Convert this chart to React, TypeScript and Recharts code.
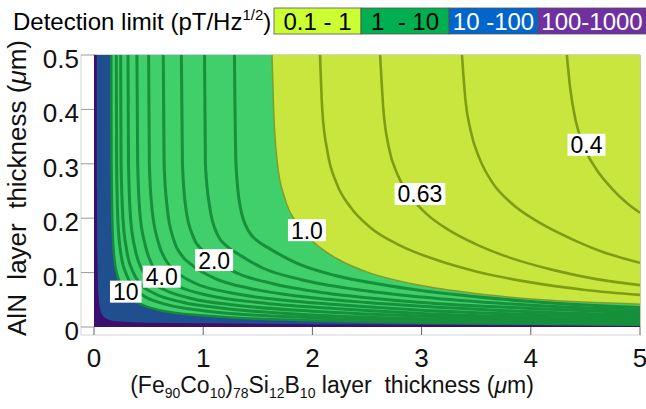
import { ComposedChart, Area, Line, Scatter, XAxis, YAxis, Customized } from 'recharts';

type Pt = { x: number; y: number };

// contours of the detection limit (pT/Hz^1/2), x = FeCoSiB thickness, y = AlN thickness (µm)
const plotSpan: Pt[] = [{ x: 0, y: 0 }, { x: 5, y: 0 }];
const c100: Pt[] = [
  { x: 0.025, y: 0.5 }, { x: 0.027, y: 0.25 }, { x: 0.032, y: 0.12 }, { x: 0.04, y: 0.06 },
  { x: 0.06, y: 0.03 }, { x: 0.1, y: 0.017 }, { x: 0.2, y: 0.0105 }, { x: 0.5, y: 0.008 },
  { x: 1, y: 0.007 }, { x: 2, y: 0.005 }, { x: 3, y: 0.004 }, { x: 4, y: 0.003 }, { x: 5, y: 0.002 },
];
const c10: Pt[] = [
  { x: 0.158, y: 0.5 }, { x: 0.16, y: 0.3 }, { x: 0.17, y: 0.18 }, { x: 0.19, y: 0.12 },
  { x: 0.23, y: 0.085 }, { x: 0.29, y: 0.062 }, { x: 0.4, y: 0.045 }, { x: 0.6, y: 0.031 },
  { x: 1, y: 0.021 }, { x: 2, y: 0.012 }, { x: 3, y: 0.008 }, { x: 4, y: 0.006 }, { x: 5, y: 0.004 },
];
const c7_9: Pt[] = [
  { x: 0.204, y: 0.5 }, { x: 0.207, y: 0.3 }, { x: 0.22, y: 0.19 }, { x: 0.25, y: 0.13 },
  { x: 0.3, y: 0.095 }, { x: 0.35, y: 0.075 }, { x: 0.45, y: 0.058 }, { x: 0.65, y: 0.042 },
  { x: 1, y: 0.03 }, { x: 2, y: 0.017 }, { x: 3, y: 0.011 }, { x: 4, y: 0.008 }, { x: 5, y: 0.006 },
];
const c6_3: Pt[] = [
  { x: 0.244, y: 0.5 }, { x: 0.248, y: 0.3 }, { x: 0.265, y: 0.2 }, { x: 0.3, y: 0.14 },
  { x: 0.36, y: 0.1 }, { x: 0.42, y: 0.08 }, { x: 0.55, y: 0.062 }, { x: 0.8, y: 0.046 },
  { x: 1.2, y: 0.034 }, { x: 2, y: 0.022 }, { x: 3, y: 0.015 }, { x: 4, y: 0.011 }, { x: 5, y: 0.008 },
];
const c5: Pt[] = [
  { x: 0.311, y: 0.5 }, { x: 0.316, y: 0.3 }, { x: 0.335, y: 0.2 }, { x: 0.38, y: 0.14 },
  { x: 0.44, y: 0.105 }, { x: 0.51, y: 0.086 }, { x: 0.65, y: 0.068 }, { x: 0.9, y: 0.052 },
  { x: 1.3, y: 0.04 }, { x: 2, y: 0.029 }, { x: 3, y: 0.02 }, { x: 4, y: 0.014 }, { x: 5, y: 0.011 },
];
const c4: Pt[] = [
  { x: 0.393, y: 0.5 }, { x: 0.4, y: 0.3 }, { x: 0.42, y: 0.21 }, { x: 0.47, y: 0.15 },
  { x: 0.53, y: 0.115 }, { x: 0.62, y: 0.093 }, { x: 0.78, y: 0.074 }, { x: 1.05, y: 0.058 },
  { x: 1.5, y: 0.045 }, { x: 2.2, y: 0.034 }, { x: 3, y: 0.025 }, { x: 4, y: 0.018 }, { x: 5, y: 0.014 },
];
const c3_2: Pt[] = [
  { x: 0.5, y: 0.5 }, { x: 0.507, y: 0.3 }, { x: 0.53, y: 0.22 }, { x: 0.59, y: 0.155 },
  { x: 0.66, y: 0.122 }, { x: 0.75, y: 0.102 }, { x: 0.93, y: 0.08 }, { x: 1.25, y: 0.063 },
  { x: 1.7, y: 0.05 }, { x: 2.3, y: 0.04 }, { x: 3, y: 0.031 }, { x: 4, y: 0.023 }, { x: 5, y: 0.018 },
];
const c2_5: Pt[] = [
  { x: 0.634, y: 0.5 }, { x: 0.642, y: 0.3 }, { x: 0.67, y: 0.22 }, { x: 0.73, y: 0.16 },
  { x: 0.81, y: 0.13 }, { x: 0.91, y: 0.112 }, { x: 1.1, y: 0.09 }, { x: 1.45, y: 0.07 },
  { x: 1.9, y: 0.056 }, { x: 2.5, y: 0.045 }, { x: 3, y: 0.038 }, { x: 4, y: 0.028 }, { x: 5, y: 0.022 },
];
const c2: Pt[] = [
  { x: 0.8, y: 0.5 }, { x: 0.81, y: 0.3 }, { x: 0.84, y: 0.22 }, { x: 0.91, y: 0.165 },
  { x: 1.0, y: 0.14 }, { x: 1.1, y: 0.123 }, { x: 1.3, y: 0.1 }, { x: 1.65, y: 0.079 },
  { x: 2.1, y: 0.063 }, { x: 2.6, y: 0.052 }, { x: 3, y: 0.045 }, { x: 4, y: 0.034 }, { x: 5, y: 0.026 },
];
const c1_6: Pt[] = [
  { x: 1.012, y: 0.5 }, { x: 1.02, y: 0.3 }, { x: 1.06, y: 0.22 }, { x: 1.13, y: 0.17 },
  { x: 1.22, y: 0.148 }, { x: 1.33, y: 0.133 }, { x: 1.55, y: 0.108 }, { x: 1.9, y: 0.087 },
  { x: 2.4, y: 0.069 }, { x: 3, y: 0.055 }, { x: 4, y: 0.04 }, { x: 5, y: 0.031 },
];
const c1_3: Pt[] = [
  { x: 1.286, y: 0.5 }, { x: 1.3, y: 0.3 }, { x: 1.34, y: 0.22 }, { x: 1.42, y: 0.175 },
  { x: 1.5, y: 0.158 }, { x: 1.6, y: 0.145 }, { x: 1.85, y: 0.118 }, { x: 2.2, y: 0.095 },
  { x: 2.7, y: 0.076 }, { x: 3.2, y: 0.062 }, { x: 4, y: 0.047 }, { x: 5, y: 0.036 },
];
const c1: Pt[] = [
  { x: 1.63, y: 0.5 }, { x: 1.645, y: 0.4 }, { x: 1.68, y: 0.3 }, { x: 1.75, y: 0.235 },
  { x: 1.86, y: 0.19 }, { x: 2.01, y: 0.156 }, { x: 2.23, y: 0.125 }, { x: 2.53, y: 0.099 },
  { x: 2.9, y: 0.08 }, { x: 3.44, y: 0.063 }, { x: 4.1, y: 0.05 }, { x: 5, y: 0.042 },
];
const c0_8: Pt[] = [
  { x: 2.07, y: 0.5 }, { x: 2.09, y: 0.4 }, { x: 2.14, y: 0.32 }, { x: 2.22, y: 0.265 },
  { x: 2.35, y: 0.22 }, { x: 2.53, y: 0.183 }, { x: 2.8, y: 0.15 }, { x: 3.14, y: 0.123 },
  { x: 3.5, y: 0.102 }, { x: 4.0, y: 0.082 }, { x: 4.5, y: 0.068 }, { x: 5, y: 0.059 },
];
const c0_63: Pt[] = [
  { x: 2.62, y: 0.5 }, { x: 2.65, y: 0.4 }, { x: 2.7, y: 0.33 }, { x: 2.78, y: 0.28 },
  { x: 2.9, y: 0.24 }, { x: 3.05, y: 0.207 }, { x: 3.25, y: 0.178 }, { x: 3.5, y: 0.152 },
  { x: 3.8, y: 0.128 }, { x: 4.2, y: 0.105 }, { x: 4.6, y: 0.088 }, { x: 5, y: 0.077 },
];
const c0_5: Pt[] = [
  { x: 3.37, y: 0.5 }, { x: 3.4, y: 0.42 }, { x: 3.45, y: 0.36 }, { x: 3.53, y: 0.31 },
  { x: 3.65, y: 0.265 }, { x: 3.82, y: 0.228 }, { x: 4.06, y: 0.194 }, { x: 4.36, y: 0.163 },
  { x: 4.66, y: 0.138 }, { x: 5, y: 0.118 },
];
const c0_4: Pt[] = [
  { x: 4.33, y: 0.5 }, { x: 4.36, y: 0.44 }, { x: 4.41, y: 0.38 }, { x: 4.49, y: 0.33 },
  { x: 4.6, y: 0.29 }, { x: 4.74, y: 0.255 }, { x: 4.88, y: 0.228 }, { x: 5, y: 0.21 },
];

const greenLines = [c7_9, c6_3, c5, c4, c3_2, c2_5, c2, c1_6, c1_3];
const yellowLines = [c0_8, c0_63, c0_5, c0_4];

const contourLabels = [
  { t: '10', x: 0.291, y: 0.065 },
  { t: '4.0', x: 0.62, y: 0.0925 },
  { t: '2.0', x: 1.1, y: 0.123 },
  { t: '1.0', x: 1.95, y: 0.178 },
  { t: '0.63', x: 2.985, y: 0.2445 },
  { t: '0.4', x: 4.51, y: 0.335 },
];

const xTicks = [0, 1, 2, 3, 4, 5];
const yTicks = [0, 0.1, 0.2, 0.3, 0.4, 0.5];

const legendRanges = ['0.1 - 1', '1  - 10', '10 -100', '100-1000'];
const legendColors = ['#ccff33', '#00b050', '#0066cc', '#7030a0'];
const legendText = ['#000', '#000', '#fff', '#fff'];
const legendEdges = [274, 361, 449, 538, 646];

const FONT = "'Liberation Sans', Arial, sans-serif";

const textWidth = (s: string, size: number) =>
  s.split('').reduce((w, ch) => w + (ch === '.' ? 0.278 : 0.556), 0) * size;

const ContourLabel = (p: any) => {
  const w = textWidth(p.payload.t, 23) + 6;
  return (
    <g>
      <rect x={p.cx - w / 2} y={p.cy - 11} width={w} height={22} fill="#fff" />
      <text x={p.cx} y={p.cy + 8.5} textAnchor="middle" fontSize={23} fontFamily={FONT} fill="#000">
        {p.payload.t}
      </text>
    </g>
  );
};

const XTick = ({ x, y, payload }: any) => (
  <text x={x} y={y + 30} textAnchor="middle" fontSize={26} fontFamily={FONT} fill="#111">
    {payload.value}
  </text>
);

const YTick = ({ x, y, payload }: any) => (
  <text x={x} y={y + 13} textAnchor="end" fontSize={26} fontFamily={FONT} fill="#111">
    {payload.value}
  </text>
);

const Overlay = () => (
  <g fontFamily={FONT}>
    {/* frame */}
    <line x1={93} y1={55} x2={640} y2={55} stroke="#a8a8a8" strokeWidth={1} />
    <line x1={640} y1={55} x2={640} y2={327} stroke="#8a9a50" strokeWidth={1} />
    <line x1={81} y1={55} x2={81} y2={335} stroke="#d4d4d4" strokeWidth={1} />
    <line x1={81} y1={335} x2={641} y2={335} stroke="#d4d4d4" strokeWidth={1} />

    {/* header */}
    <text x={13} y={30} fontSize={24} fill="#000">
      Detection limit (pT/Hz
      <tspan dy={-10} fontSize={15}>1/2</tspan>
      <tspan dy={10} fontSize={24}>)</tspan>
    </text>
    {legendRanges.map((r, i) => (
      <g key={r}>
        <rect
          x={legendEdges[i]}
          y={8}
          width={legendEdges[i + 1] - legendEdges[i]}
          height={26}
          fill={legendColors[i]}
          stroke="#555"
          strokeWidth={0.8}
        />
        <text
          x={(legendEdges[i] + legendEdges[i + 1]) / 2}
          y={29.5}
          textAnchor="middle"
          fontSize={24}
          fill={legendText[i]}
          style={{ whiteSpace: 'pre' }}
        >
          {r}
        </text>
      </g>
    ))}

    {/* axis titles */}
    <text x={332} y={393} textAnchor="middle" fontSize={23} fill="#111" style={{ whiteSpace: 'pre' }}>
      (Fe<tspan dy={5} fontSize={14}>90</tspan>
      <tspan dy={-5}>Co</tspan>
      <tspan dy={5} fontSize={14}>10</tspan>
      <tspan dy={-5}>)</tspan>
      <tspan dy={5} fontSize={14}>78</tspan>
      <tspan dy={-5}>Si</tspan>
      <tspan dy={5} fontSize={14}>12</tspan>
      <tspan dy={-5}>B</tspan>
      <tspan dy={5} fontSize={14}>10</tspan>
      <tspan dy={-5}>{' layer  thickness ('}</tspan>
      <tspan fontStyle="italic">μ</tspan>
      <tspan>m)</tspan>
    </text>
    <text
      x={0}
      y={0}
      transform="translate(26 188) rotate(-90)"
      textAnchor="middle"
      fontSize={26}
      fill="#111"
      style={{ whiteSpace: 'pre' }}
    >
      {'AlN  layer  thickness ('}
      <tspan fontStyle="italic">μ</tspan>
      m)
    </text>
  </g>
);

export default function App() {
  return (
    <div style={{ position: 'absolute', left: 0, top: 0, width: 646, height: 409, background: '#fff' }}>
      <ComposedChart width={646} height={409} margin={{ top: 55, right: 6, left: 0, bottom: 0 }}>
        <XAxis
          type="number"
          dataKey="x"
          domain={[0, 5]}
          ticks={xTicks}
          allowDataOverflow
          height={82}
          axisLine={false}
          tickLine={{ stroke: '#666' }}
          tickSize={8}
          tick={<XTick />}
        />
        <YAxis
          type="number"
          dataKey="y"
          domain={[0, 0.5]}
          ticks={yTicks}
          allowDataOverflow
          width={94}
          axisLine={false}
          tickLine={{ stroke: '#999' }}
          tickSize={13}
          tick={<YTick />}
        />

        <Area data={plotSpan} dataKey="y" type="linear" baseValue={0.5} fill="#3c0e6e" fillOpacity={1} stroke="none" isAnimationActive={false} />
        <Area data={c100} dataKey="y" type="monotone" baseValue={0.5} fill="#1f4f8e" fillOpacity={1} stroke="none" isAnimationActive={false} />
        <Area data={c10} dataKey="y" type="monotone" baseValue={0.5} fill="#40cf6b" fillOpacity={1} stroke="none" isAnimationActive={false} />
        <Area data={c1} dataKey="y" type="monotone" baseValue={0.5} fill="#c9e63f" fillOpacity={1} stroke="none" isAnimationActive={false} />

        <Line data={c10} dataKey="y" type="monotone" stroke="#168a3a" strokeWidth={2.5} dot={false} isAnimationActive={false} />
        {greenLines.map((c, i) => (
          <Line key={`g${i}`} data={c} dataKey="y" type="monotone" stroke="#16903b" strokeWidth={3} dot={false} isAnimationActive={false} />
        ))}
        <Line data={c1} dataKey="y" type="monotone" stroke="#7d9e2c" strokeWidth={1.5} dot={false} isAnimationActive={false} />
        {yellowLines.map((c, i) => (
          <Line key={`y${i}`} data={c} dataKey="y" type="monotone" stroke="#7e9d14" strokeWidth={2.6} dot={false} isAnimationActive={false} />
        ))}

        <Scatter data={contourLabels} dataKey="y" shape={ContourLabel} isAnimationActive={false} />
        <Customized component={Overlay} />
      </ComposedChart>
    </div>
  );
}
